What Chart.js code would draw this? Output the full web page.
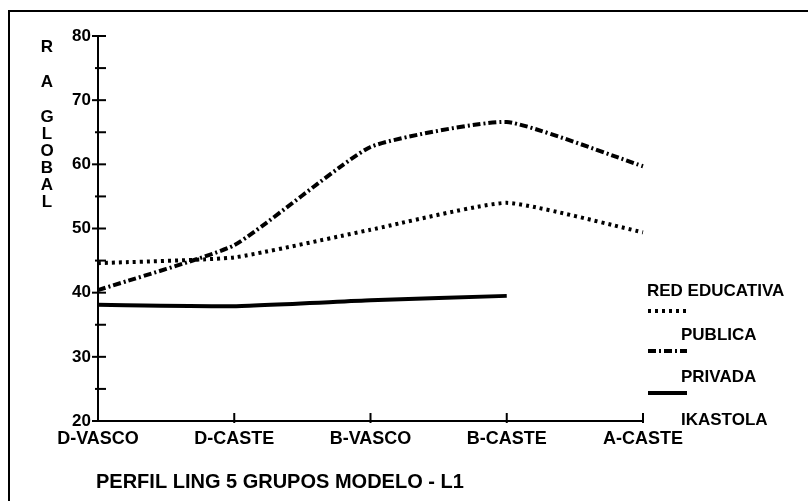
<!DOCTYPE html>
<html>
<head>
<meta charset="utf-8">
<script src="https://cdn.jsdelivr.net/npm/chart.js@4"></script>
<style>
  html, body { margin: 0; padding: 0; background: #fff; }
  #wrap { width: 808px; height: 501px; position: relative; }
</style>
</head>
<body>
<div id="wrap"><canvas id="perfilChart"></canvas></div>
<script>
// data
const grupos = ["D-VASCO", "D-CASTE", "B-VASCO", "B-CASTE", "A-CASTE"];
const publica = [44.6, 45.5, 49.8, 54.0, 49.4];
const privada = [40.4, 47.4, 62.7, 66.6, 59.7];
const ikastola = [38.1, 37.9, 38.8, 39.5, null];
const seriesNames = ["PUBLICA", "PRIVADA", "IKASTOLA"];
const legendTitle = "RED EDUCATIVA";
const yTitleLetters = ["R", "A", "G", "L", "O", "B", "A", "L"];
const chartTitle = "PERFIL LING 5 GRUPOS MODELO - L1";

const FONT = "'Liberation Sans', Arial, sans-serif";

// frame, crossing ticks, stacked y title, bottom title and the odd legend
const extras = {
    id: 'extras',
    afterDraw(chart) {
        const c = chart.ctx;
        const xs = chart.scales.x, ys = chart.scales.y;
        c.save();
        c.strokeStyle = '#000';
        c.fillStyle = '#000';

        // scan frame (top + left only)
        c.lineWidth = 2;
        c.beginPath();
        c.moveTo(9, 501); c.lineTo(9, 11); c.lineTo(808, 11);
        c.stroke();

        // y ticks every 5, crossing the axis
        c.lineWidth = 2;
        for (let v = 20; v <= 80; v += 5) {
            const y = ys.getPixelForValue(v);
            const x0 = xs.left;
            c.beginPath();
            c.moveTo(x0 - (v % 10 === 0 ? 6 : 3), y);
            c.lineTo(x0 + 8, y);
            c.stroke();
        }
        // x ticks
        grupos.forEach((g, i) => {
            if (i === 0) return;
            const x = xs.getPixelForValue(i);
            c.beginPath();
            c.moveTo(x, ys.bottom - 8);
            c.lineTo(x, ys.bottom + 2);
            c.stroke();
        });

        // stacked y title
        c.font = "bold 17px " + FONT;
        c.textAlign = 'center';
        c.textBaseline = 'middle';
        const yPos = [47, 82, 117, 134, 151, 168, 185, 202];
        yTitleLetters.forEach((ch, i) => c.fillText(ch, 47, yPos[i]));

        // bottom title
        c.font = "bold 20px " + FONT;
        c.textAlign = 'left';
        c.fillText(chartTitle, 96, 482);

        // legend: header, then sample above each name
        c.font = "bold 17px " + FONT;
        c.fillText(legendTitle, 647, 291);
        const sampleY = [311, 351, 393];
        const labelY = [335, 377, 420];
        chart.data.datasets.forEach((ds, i) => {
            c.lineWidth = ds.borderWidth;
            c.setLineDash(ds.borderDash || []);
            c.beginPath();
            c.moveTo(648, sampleY[i]);
            c.lineTo(687, sampleY[i]);
            c.stroke();
            c.setLineDash([]);
            c.fillText(seriesNames[i], 681, labelY[i]);
        });
        c.restore();
    }
};

const ctx = document.getElementById('perfilChart').getContext('2d');
const perfilChart = new Chart(ctx, {
    type: 'line',
    data: {
        labels: grupos,
        datasets: [
            { label: seriesNames[0], data: publica, borderColor: '#000', borderWidth: 4, borderDash: [3, 4] },
            { label: seriesNames[1], data: privada, borderColor: '#000', borderWidth: 4, borderDash: [8, 3, 2, 3] },
            { label: seriesNames[2], data: ikastola, borderColor: '#000', borderWidth: 4 }
        ]
    },
    options: {
        responsive: true,
        maintainAspectRatio: false,
        animation: false,
        layout: { padding: { left: 0, top: 36, right: 165, bottom: 0 } },
        elements: {
            line: { tension: 0.15, fill: false, borderCapStyle: 'butt' },
            point: { radius: 0, hoverRadius: 0 }
        },
        scales: {
            x: {
                offset: false,
                afterFit: (s) => { s.height = 80; },
                grid: { display: false, drawTicks: false },
                border: { display: true, color: '#000', width: 2 },
                ticks: {
                    color: '#000',
                    padding: 7,
                    maxRotation: 0,
                    autoSkip: false,
                    font: { family: FONT, size: 18, weight: 'bold' }
                }
            },
            y: {
                min: 20,
                max: 80,
                afterFit: (s) => { s.width = 98; },
                grid: { display: false, drawTicks: false },
                border: { display: true, color: '#000', width: 2 },
                ticks: {
                    stepSize: 5,
                    color: '#000',
                    padding: 7,
                    font: { family: FONT, size: 17, weight: 'bold' },
                    callback: (v) => (v % 10 === 0 ? v : '')
                }
            }
        },
        plugins: {
            legend: { display: false },
            tooltip: { enabled: false }
        }
    },
    plugins: [extras]
});
</script>
</body>
</html>
